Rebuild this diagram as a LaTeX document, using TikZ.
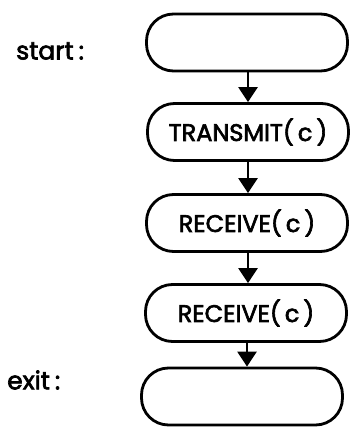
\documentclass[tikz,border=0pt]{standalone}
\usepackage{fontspec}
\setmainfont{Poppins}
\newfontfamily\labelfont{Poppins}[FakeBold=2.6]
\usetikzlibrary{arrows.meta}
\tikzset{
  stepbox/.style={draw=black, line width=2.8pt, rounded corners=27pt,
    minimum width=201pt, minimum height=57pt, inner sep=0pt,
    font=\labelfont\fontsize{24}{27}\selectfont},
  flow/.style={line width=2.6pt, -{Triangle[width=19pt,length=15pt]}},
  tag/.style={anchor=west, inner sep=0pt, font=\labelfont\fontsize{25}{29}\selectfont}
}
\begin{document}
\begin{tikzpicture}[x=1pt,y=1pt]
  \useasboundingbox (0,0) rectangle (352,-427);
  % the chain of operations
  \node[stepbox] (s0) at (247,-42.5) {};
  \node[stepbox] (s1) at (248,-132) {TRANSMIT(\,c\,)};
  \node[stepbox] (s2) at (247,-223) {RECEIVE(\,c\,)};
  \node[stepbox] (s3) at (246,-313) {RECEIVE(\,c\,)};
  \node[stepbox] (s4) at (242,-396.5) {};
  % connecting arrows
  \draw[flow] (s0.south -| 248,0) -- (s1.north -| 248,0);
  \draw[flow] (s1.south -| 248,0) -- (s2.north -| 248,0);
  \draw[flow] (s2.south -| 248,0) -- (s3.north -| 248,0);
  \draw[flow] (s3.south -| 247,0) -- (s4.north -| 247,0);
  % labels of the entry and exit points
  \node[tag] (lstart) at (16,-51) {start\hspace{5pt}:};
  \node[tag] (lexit) at (7,-380) {exit\hspace{5pt}:};
\end{tikzpicture}
\end{document}
